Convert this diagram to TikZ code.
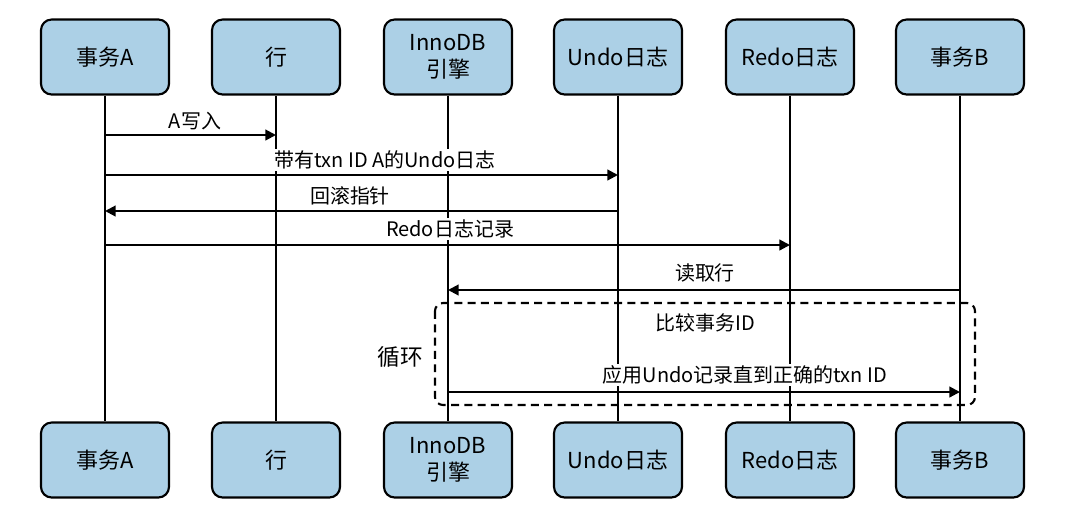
\documentclass[tikz,border=0pt]{standalone}
\usepackage{fontspec}
\setmainfont{Noto Sans CJK SC}
\usetikzlibrary{arrows.meta}
\definecolor{boxblue}{RGB}{172,208,230}
\tikzset{
  actor/.style={draw, line width=1.6pt, rounded corners=8pt, fill=boxblue,
    minimum width=128*0.0264cm, minimum height=75*0.0264cm, align=center,
    font=\fontsize{16.5}{20}\selectfont, inner sep=1pt},
  msg/.style={-{Triangle[length=8pt,width=8pt]}, line width=1.6pt},
  lbl/.style={font=\fontsize{15}{17}\selectfont, inner sep=1pt, fill=white}
}
\begin{document}
\begin{tikzpicture}[x=0.0264cm, y=-0.0264cm]
\useasboundingbox (0,0) rectangle (1068,525);

% actors, top and bottom
\foreach \id/\x/\txt in {ta/105/事务A, row/276/行, eng/448/{InnoDB\\引擎},
    undo/618/Undo日志, redo/790/Redo日志, tb/960/事务B}{
  \node[actor] (\id top) at (\x,57) {\txt};
  \node[actor] (\id bot) at (\x,460) {\txt};
}

% loop frame
\draw[line width=1.6pt, dash pattern=on 6pt off 4pt, rounded corners=6pt]
  (435,303) rectangle (975,405);

% lifelines
\foreach \id in {ta,row,eng,undo,redo,tb}
  \draw[line width=1.6pt] (\id top) -- (\id bot);

% message end points
\coordinate (m1a) at (105,135); \coordinate (m1b) at (276,135);
\coordinate (m2a) at (105,175); \coordinate (m2b) at (618,175);
\coordinate (m3a) at (618,211); \coordinate (m3b) at (105,211);
\coordinate (m4a) at (105,245); \coordinate (m4b) at (790,245);
\coordinate (m5a) at (960,290); \coordinate (m5b) at (448,290);
\coordinate (m6a) at (448,392); \coordinate (m6b) at (960,392);

\draw[msg] (m1a) -- (m1b);
\node[lbl] (l1) at (195,121) {\textit{A}写入};
\draw[msg] (m2a) -- (m2b);
\node[lbl] (l2) at (385,160) {带有txn ID A的Undo日志};
\draw[msg] (m3a) -- (m3b);
\node[lbl] (l3) at (350,196) {回滚指针};
\draw[msg] (m4a) -- (m4b);
\node[lbl] (l4) at (450,229) {Redo日志记录};
\draw[msg] (m5a) -- (m5b);
\node[lbl] (l5) at (705,273) {读取行};

\node[lbl, inner sep=4pt] (cmp) at (705,323) {比较事务ID};
\node[lbl, font=\fontsize{17}{19}\selectfont] (loop) at (400,357) {循环};
\draw[msg] (m6a) -- (m6b);
\node[lbl] (l6) at (745,375) {应用Undo记录直到正确的txn ID};
\end{tikzpicture}
\end{document}
